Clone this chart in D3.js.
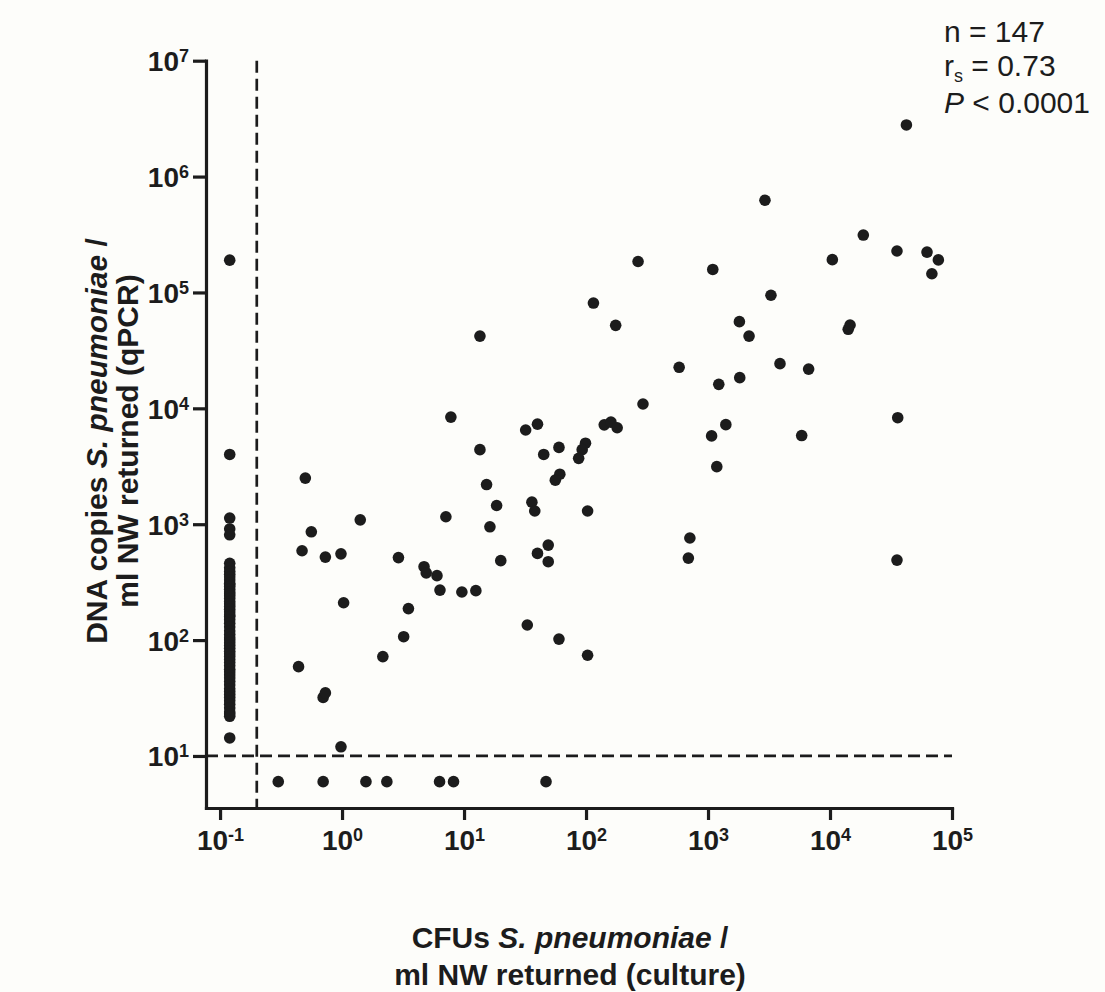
<!DOCTYPE html>
<html>
<head>
<meta charset="utf-8">
<script src="https://cdn.jsdelivr.net/npm/d3@7"></script>
<style>
  body { margin: 0; background: #fdfdfa; }
  svg { display: block; font-family: "Liberation Sans", Arial, sans-serif; }
</style>
</head>
<body>
<script>
// Data: CFU/ml (culture) vs DNA copies/ml (qPCR)
// culture negative samples, plotted at 0.12 CFU
const cultureNegCfu = 0.12;
const cultureNegDna = [190000, 4000, 1130, 910, 810,
  460, 420, 390, 370, 350, 330, 310, 300, 290, 275, 260, 250, 240, 228, 215,
  205, 195, 185, 175, 165, 160, 150, 140, 130, 120, 112, 105, 100, 95, 90,
  85, 80, 76, 72, 68, 64, 60, 56, 53, 50, 47, 44, 41, 38, 36, 34, 32, 30,
  28, 26, 24, 23, 22, 14.3];

// qPCR negative samples, plotted at 6 copies
const qpcrNegDna = 6;
const qpcrNegCfu = [0.30, 0.70, 1.57, 2.33, 6.3, 8.2, 47];

// samples positive in both
const cfu = [32, 40, 13.5, 45, 60, 99, 93, 87, 61, 56, 103, 0.50, 15.3, 18.5, 36, 38,
  1.41, 7.1, 0.56, 16.3, 0.47, 0.73, 0.98, 2.9, 4.7, 4.9, 6.0, 20, 6.35, 9.6, 12.5,
  1.03, 3.5, 33, 3.2, 2.16, 0.44, 0.70, 0.73, 0.98, 7.8, 49, 40, 49, 60, 103,
  13.5, 115, 175, 267, 580, 141, 160, 180, 293, 710, 690,
  2930, 18750, 35400, 62400, 77300, 68400, 10450, 1094, 3280, 1808, 2170, 14600, 14100,
  3890, 6680, 1225, 1820, 1400, 1070, 5860, 35900, 1180, 42300, 35400];
const dna = [6500, 7300, 4400, 4000, 4600, 5000, 4400, 3700, 2700, 2400, 1300, 2500, 2200, 1450, 1550, 1300,
  1090, 1160, 860, 950, 590, 520, 555, 515, 430, 380, 360, 485, 270, 260, 267,
  210, 187, 135, 107, 72, 59, 32, 35, 12, 8400, 660, 560, 475, 102, 74,
  42000, 81000, 52000, 185000, 22600, 7200, 7600, 6800, 10900, 760, 510,
  625000, 313000, 228000, 223000, 191000, 145000, 192000, 158000, 94600, 56000, 42000, 52400, 48100,
  24300, 21800, 16100, 18400, 7230, 5780, 5820, 8300, 3140, 2790000, 490];

const xTicks = [-1, 0, 1, 2, 3, 4, 5];
const yTicks = [1, 2, 3, 4, 5, 6, 7];
const cultureCutoff = 0.2;
const qpcrCutoff = 10;
const stats = { n: "147", rs: "0.73", p: "0.0001" };

// build point table
const points = []
  .concat(cultureNegDna.map(d => ({ x: cultureNegCfu, y: d })))
  .concat(qpcrNegCfu.map(c => ({ x: c, y: qpcrNegDna })))
  .concat(cfu.map((c, i) => ({ x: c, y: dna[i] })));

const W = 1105, H = 992;
const svg = d3.select("body").append("svg")
  .attr("width", W)
  .attr("height", H);

svg.append("rect").attr("width", W).attr("height", H).attr("fill", "#fdfdfa");

const x = d3.scaleLog()
  .domain([0.0767, 1e5])
  .range([206, 952]);

const y = d3.scaleLog()
  .domain([3.556, 1e7])
  .range([808, 60.7]);

const ink = "#1c1c1c";

// cutoff lines
svg.append("line")
  .attr("x1", x(cultureCutoff)).attr("x2", x(cultureCutoff))
  .attr("y1", y.range()[1]).attr("y2", y.range()[0])
  .attr("stroke", ink).attr("stroke-width", 2.7)
  .attr("stroke-dasharray", "12,6");

svg.append("line")
  .attr("x1", x.range()[0]).attr("x2", x.range()[1])
  .attr("y1", y(qpcrCutoff)).attr("y2", y(qpcrCutoff))
  .attr("stroke", ink).attr("stroke-width", 2.7)
  .attr("stroke-dasharray", "12,6");

// axes
const xAxis = svg.append("g")
  .attr("transform", `translate(0,${y.range()[0]})`)
  .call(d3.axisBottom(x)
    .tickValues(xTicks.map(e => Math.pow(10, e)))
    .tickSize(12)
    .tickSizeOuter(0)
    .tickFormat(() => ""));

const yAxis = svg.append("g")
  .attr("transform", `translate(${x.range()[0]},0)`)
  .call(d3.axisLeft(y)
    .tickValues(yTicks.map(e => Math.pow(10, e)))
    .tickSize(13)
    .tickSizeOuter(0)
    .tickFormat(() => ""));

[xAxis, yAxis].forEach(g => {
  g.select(".domain").attr("stroke", ink).attr("stroke-width", 3.2).attr("stroke-linecap", "square");
  g.selectAll(".tick line").attr("stroke", ink).attr("stroke-width", 3.2);
});

// power-of-ten labels
xAxis.selectAll(".tick").each(function(d, i) {
  const t = d3.select(this).append("text")
    .attr("x", 0).attr("y", 42)
    .attr("text-anchor", "middle")
    .attr("fill", ink)
    .attr("font-size", 28).attr("font-weight", "bold");
  t.append("tspan").text("10");
  t.append("tspan").attr("dy", -9).attr("font-size", 18).text(xTicks[i] < 0 ? "-" + Math.abs(xTicks[i]) : xTicks[i]);
});

yAxis.selectAll(".tick").each(function(d, i) {
  const t = d3.select(this).append("text")
    .attr("x", -17).attr("y", 10)
    .attr("text-anchor", "end")
    .attr("fill", ink)
    .attr("font-size", 28).attr("font-weight", "bold");
  t.append("tspan").text("10");
  t.append("tspan").attr("dy", -9).attr("font-size", 18).text(yTicks[i]);
});

// dots
svg.append("g")
  .selectAll("circle")
  .data(points)
  .enter().append("circle")
  .attr("cx", d => x(d.x))
  .attr("cy", d => y(d.y))
  .attr("r", 5.8)
  .attr("fill", ink);

// axis titles
function title(g, parts) {
  parts.forEach(p => {
    g.append("tspan").attr("font-style", p.it ? "italic" : "normal").text(p.t);
  });
}

const titleSize = 30;

const yt1 = svg.append("text")
  .attr("transform", "translate(107,441) rotate(-90)")
  .attr("text-anchor", "middle").attr("font-size", titleSize).attr("font-weight", "bold").attr("fill", ink);
title(yt1, [{ t: "DNA copies " }, { t: "S. pneumoniae", it: true }, { t: " /" }]);

const yt2 = svg.append("text")
  .attr("transform", "translate(138,441) rotate(-90)")
  .attr("text-anchor", "middle").attr("font-size", titleSize).attr("font-weight", "bold").attr("fill", ink);
title(yt2, [{ t: "ml NW returned (qPCR)" }]);

const xt1 = svg.append("text")
  .attr("x", 570).attr("y", 948)
  .attr("text-anchor", "middle").attr("font-size", titleSize).attr("font-weight", "bold").attr("fill", ink);
title(xt1, [{ t: "CFUs " }, { t: "S. pneumoniae", it: true }, { t: " /" }]);

const xt2 = svg.append("text")
  .attr("x", 570).attr("y", 985)
  .attr("text-anchor", "middle").attr("font-size", titleSize).attr("font-weight", "bold").attr("fill", ink);
title(xt2, [{ t: "ml NW returned (culture)" }]);

// statistics
const st = svg.append("g").attr("fill", ink).attr("font-size", 30);
st.append("text").attr("x", 944).attr("y", 42).text("n = " + stats.n);
const r = st.append("text").attr("x", 944).attr("y", 76);
r.append("tspan").text("r");
r.append("tspan").attr("font-size", 18).attr("dy", 6).text("s");
r.append("tspan").attr("dy", -6).text(" = " + stats.rs);
const p = st.append("text").attr("x", 944).attr("y", 113);
p.append("tspan").attr("font-style", "italic").text("P");
p.append("tspan").text(" < " + stats.p);
</script>
</body>
</html>
